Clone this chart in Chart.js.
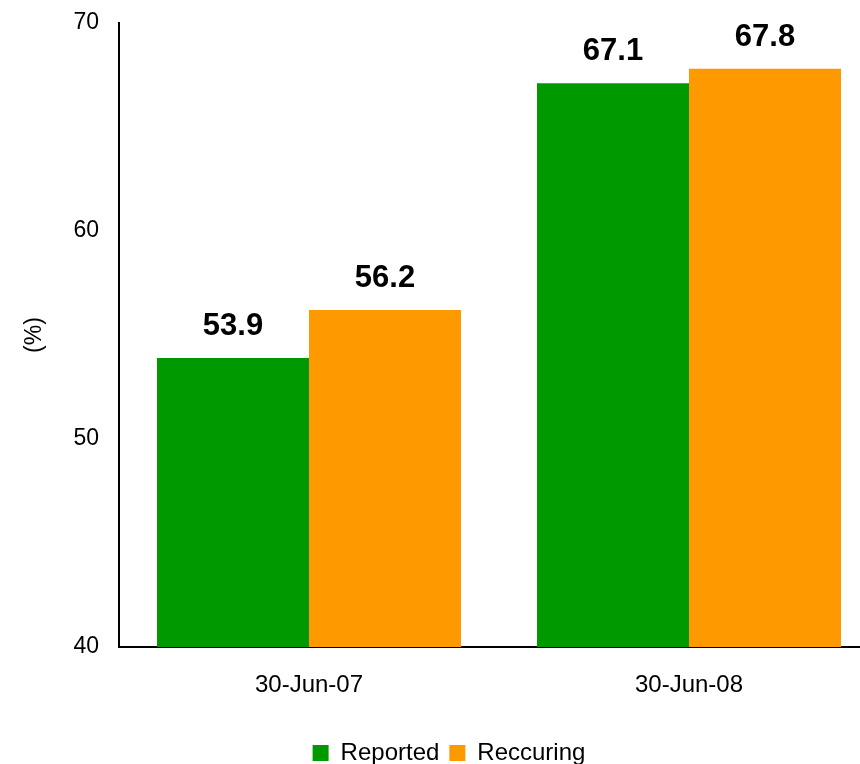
<!DOCTYPE html>
<html>
<head>
<meta charset="utf-8">
<script src="https://cdn.jsdelivr.net/npm/chart.js@4/dist/chart.umd.min.js"></script>
<style>
  html, body { margin: 0; padding: 0; background: #fff; }
  #wrap { width: 860px; height: 764px; overflow: hidden; }
  canvas { display: block; }
</style>
</head>
<body>
<div id="wrap"><canvas id="chart" width="900" height="775"></canvas></div>
<script>
const categories = ['30-Jun-07', '30-Jun-08'];
const reported = [53.9, 67.1];
const reccuring = [56.2, 67.8];
const yTicks = [40, 50, 60, 70];

const FONT = '"Liberation Sans", Arial, sans-serif';

// bold value written above each bar
const valueLabels = {
    id: 'valueLabels',
    afterDatasetsDraw(chart) {
        const ctx = chart.ctx;
        ctx.save();
        ctx.font = 'bold 31px ' + FONT;
        ctx.fillStyle = '#000';
        ctx.textAlign = 'center';
        ctx.textBaseline = 'alphabetic';
        chart.data.datasets.forEach((ds, i) => {
            chart.getDatasetMeta(i).data.forEach((bar, j) => {
                ctx.fillText(ds.data[j].toFixed(1), bar.x, bar.y - 23);
            });
        });
        ctx.restore();
    }
};

new Chart(document.getElementById('chart'), {
    type: 'bar',
    data: {
        labels: categories,
        datasets: [
            { label: 'Reported', data: reported, backgroundColor: '#009900' },
            { label: 'Reccuring', data: reccuring, backgroundColor: '#FF9900' }
        ]
    },
    options: {
        responsive: false,
        animation: false,
        events: [],
        categoryPercentage: 0.8,
        barPercentage: 1.0,
        layout: { padding: { left: 19, top: 23, right: 21, bottom: 0 } },
        plugins: {
            tooltip: { enabled: false },
            legend: {
                position: 'bottom',
                labels: {
                    boxWidth: 16,
                    boxHeight: 16,
                    padding: 10,
                    color: '#000',
                    font: { family: FONT, size: 24 }
                }
            }
        },
        scales: {
            x: {
                grid: { display: false, drawTicks: false },
                border: { display: true, color: '#000', width: 2 },
                ticks: { color: '#000', padding: 24, font: { family: FONT, size: 24 } },
                afterFit(scale) {
                    scale.height = 84;
                    scale.paddingLeft = 0;
                    scale.paddingRight = 0;
                }
            },
            y: {
                min: 40,
                max: 70,
                afterBuildTicks(scale) { scale.ticks = yTicks.map(v => ({ value: v })); },
                grid: { display: false, drawTicks: false },
                border: { display: true, color: '#000', width: 2 },
                ticks: { color: '#000', padding: 20, font: { family: FONT, size: 23 } },
                title: {
                    display: true,
                    text: '(%)',
                    color: '#000',
                    padding: { top: 2, bottom: 0 },
                    font: { family: FONT, size: 23 }
                },
                afterFit(scale) {
                    scale.width = 100;
                    scale.paddingTop = 0;
                    scale.paddingBottom = 0;
                }
            }
        }
    },
    plugins: [valueLabels]
});
</script>
</body>
</html>
